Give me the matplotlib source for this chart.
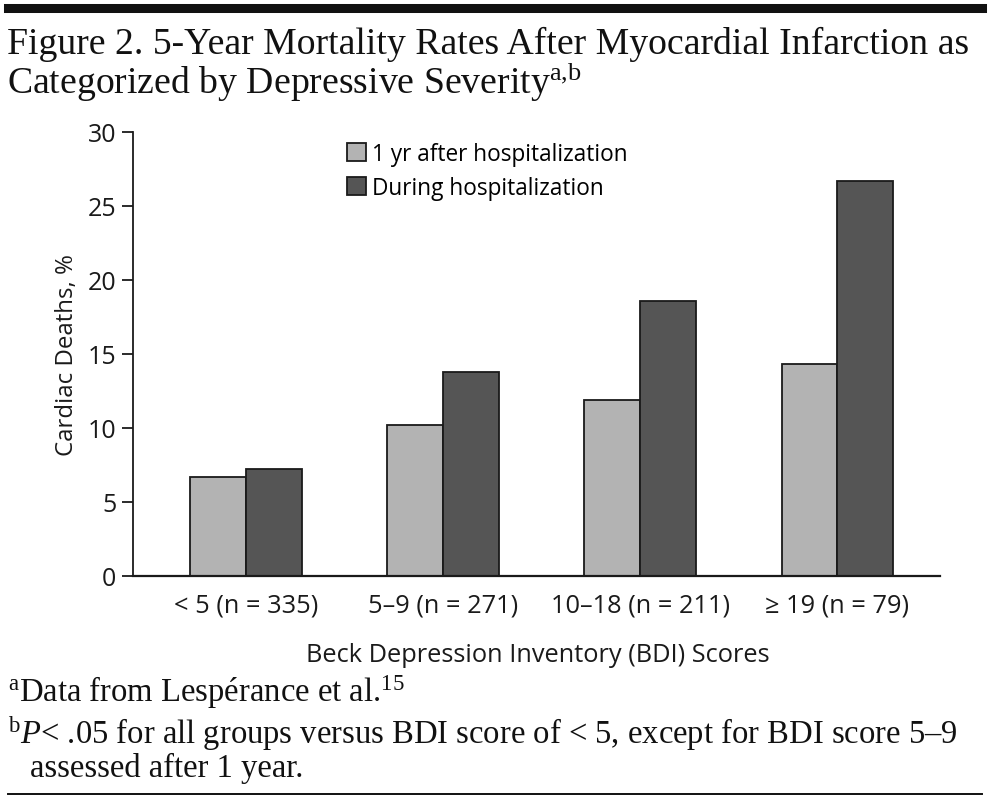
import numpy as np
import matplotlib.pyplot as plt

# --- data ---
categories = ['< 5 (n = 335)', '5\u20139 (n = 271)', '10\u201318 (n = 211)', '\u2265 19 (n = 79)']
one_year = [6.7, 10.2, 11.9, 14.3]
during = [7.2, 13.8, 18.6, 26.7]
series_names = ['1 yr after hospitalization', 'During hospitalization']
y_ticks = [0, 5, 10, 15, 20, 25, 30]

W, H = 989, 803
SANS = ['Open Sans', 'DejaVu Sans']
SERIF = ['Liberation Serif', 'DejaVu Serif']
LIGHT = '#b3b3b3'
DARK = '#555555'
INK = '#1a1a1a'

plt.rcParams['mathtext.fontset'] = 'custom'
plt.rcParams['mathtext.rm'] = 'Liberation Serif'
plt.rcParams['mathtext.it'] = 'Liberation Serif:italic'


def fx(px):
    return px / W


def fy(py):
    return 1 - py / H


fig = plt.figure(figsize=(W / 100, H / 100), dpi=100)
ax = fig.add_axes([fx(133), fy(577), fx(940) - fx(133), fy(133) - fy(577)])

x = np.arange(len(categories))
bw = 0.284
ax.bar(x - bw / 2, one_year, bw, color=LIGHT, edgecolor=INK, linewidth=1.3, label=series_names[0])
ax.bar(x + bw / 2, during, bw, color=DARK, edgecolor=INK, linewidth=1.3, label=series_names[1])

ax.set_xlim(-0.574, 3.52)
ax.set_ylim(0, 30)
ax.set_yticks(y_ticks)
ax.set_xticks(x)
ax.set_xticklabels(categories, family=SANS, fontsize=18.3)
for lab in ax.get_yticklabels():
    lab.set_family(SANS)
    lab.set_fontsize(18)
ax.tick_params(axis='y', direction='out', length=8, width=1.3, pad=4, colors=INK)
ax.tick_params(axis='x', length=0, pad=12, colors=INK)
for s in ['top', 'right']:
    ax.spines[s].set_visible(False)
ax.spines['left'].set_linewidth(1.3)
ax.spines['bottom'].set_linewidth(1.6)
ax.spines['left'].set_color(INK)
ax.spines['bottom'].set_color(INK)

ax.set_ylabel('Cardiac Deaths, %', family=SANS, fontsize=17.3, labelpad=6, color=INK)

ax.legend(loc='upper left', bbox_to_anchor=(fx(347), fy(143)), bbox_transform=fig.transFigure,
          frameon=False, prop={'family': SANS, 'size': 16.3}, handlelength=0.85, handleheight=0.85,
          handletextpad=0.25, labelspacing=0.45, borderaxespad=0, borderpad=0)

# x axis label
fig.text(fx(538), fy(655), 'Beck Depression Inventory (BDI) Scores', family=SANS, fontsize=18.3,
         ha='center', va='center', color=INK)

# title
fig.text(fx(7), fy(54), 'Figure 2. 5-Year Mortality Rates After Myocardial Infarction as',
         family=SERIF, fontsize=27.2, ha='left', va='baseline', color='#111111')
fig.text(fx(7), fy(94), 'Categorized by Depressive Severity$^{\\mathrm{a{,}b}}$',
         family=SERIF, fontsize=27.2, ha='left', va='baseline', color='#111111')

# footnotes
fig.text(fx(8), fy(702), '$^{\\mathrm{a}}$Data from Lesp\u00e9rance et al.$^{15}$',
         family=SERIF, fontsize=23.5, ha='left', va='baseline', color='#111111')
fig.text(fx(8), fy(744), '$^{\\mathrm{b}}$$\\mathit{P}$< .05 for all groups versus BDI score of < 5, except for BDI score 5\u20139',
         family=SERIF, fontsize=23.5, ha='left', va='baseline', color='#111111')
fig.text(fx(30), fy(777), 'assessed after 1 year.',
         family=SERIF, fontsize=23.5, ha='left', va='baseline', color='#111111')

# rules
fig.add_artist(plt.Line2D([fx(8), fx(982)], [fy(9), fy(9)], color='#111111', linewidth=6.5))
fig.add_artist(plt.Line2D([fx(8), fx(982)], [fy(795), fy(795)], color='#111111', linewidth=1.4))

fig.savefig('out.png', dpi=100)
